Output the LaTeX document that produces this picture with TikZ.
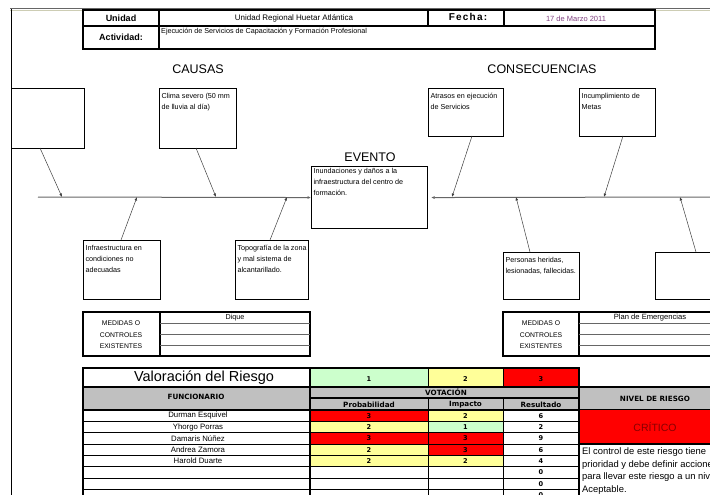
\documentclass[tikz,border=0pt]{standalone}
\usepackage{fontspec}
\setmainfont{Liberation Sans}
\newfontfamily\hdfont{DejaVu Sans}
\usetikzlibrary{arrows.meta}
\definecolor{rred}{RGB}{255,0,0}
\definecolor{ryel}{RGB}{255,255,153}
\definecolor{rgrn}{RGB}{204,255,204}
\definecolor{rgray}{RGB}{192,192,192}
\definecolor{datecol}{RGB}{128,64,128}
\definecolor{critcol}{RGB}{135,0,0}
\definecolor{tanline}{RGB}{205,205,180}
\newcommand\fsz[2]{\fontsize{#1}{#2}\selectfont}
\newcommand\fst{\rule{0pt}{8pt}}
\begin{document}
\begin{tikzpicture}[x=1pt,y=-1pt,
  fbox/.style={draw, line width=1.1pt, inner sep=2pt, anchor=north west, font=\fsz{7.2}{11}},
  arr/.style={draw=black!75, line width=0.5pt, -{Latex[length=3.5pt,width=2.8pt]}},
  spine/.style={draw=black!60, line width=1pt, -{Latex[length=3.5pt,width=3pt]}},
  title/.style={font=\fsz{12.5}{14}},
  small/.style={font=\fsz{7.2}{8}},
  nm/.style={font=\fsz{7.8}{8}},
  bsmall/.style={font=\hdfont\bfseries\fsz{6.6}{8}},
  hd/.style={font=\hdfont\bfseries\fsz{7.2}{8}},
  thick border/.style={line width=1.1pt},
  thin border/.style={line width=0.5pt}]
\useasboundingbox (0,0) rectangle (710,495);
\clip (0,0) rectangle (710,495);
\fill[white] (0,0) rectangle (710,495);

% page lines
\draw[black!60, line width=1.2pt] (10,8.5) -- (712,8.5);
\draw[tanline, line width=0.8pt] (10,10.6) -- (712,10.6);
\draw[line width=0.8pt] (11,9) -- (11,496);

% header table
\draw[line width=1.3pt] (83,10) rectangle (655,49);
\draw[thick border] (83,26) -- (655,26);
\draw[thick border] (159,10) -- (159,49);
\draw[thick border] (428,10) -- (428,26) (504,10) -- (504,26);
\node[font=\bfseries\fsz{9}{10}] (hunidad) at (121,18) {Unidad};
\node[font=\bfseries\fsz{9}{10}] (hact) at (121,37.5) {Actividad:};
\node[font=\fsz{8}{9}] (hunit) at (294,18) {Unidad Regional Huetar Atlántica};
\node[font=\fsz{7.2}{8}, anchor=west, inner sep=1pt] (hactv) at (160,32) {Ejecución de Servicios de Capacitación y Formación Profesional};
\node[font=\bfseries\fsz{10}{11}\addfontfeatures{LetterSpace=12}] (hfecha) at (468,17) {Fecha:};
\node[font=\fsz{7.5}{9}, text=datecol] (hdate) at (576,19) {17 de Marzo 2011};

% titles
\node[title] (causas) at (198,69) {CAUSAS};
\node[title] (consec) at (542,69) {CONSECUENCIAS};
\node[title] (evento) at (370,157) {EVENTO};

% cause boxes
\node[fbox, minimum width=73pt, minimum height=60pt] (c1) at (11,88) {};
\node[fbox] (c2) at (159,88) {\parbox[c][56pt][t]{73pt}{\raggedright\fst Clima severo (50 mm\\de lluvia al día)}};
\node[fbox] (c3) at (83,240) {\parbox[c][55pt][t]{73pt}{\raggedright\fst Infraestructura en\\condiciones no\\adecuadas}};
\node[fbox] (c4) at (235,240) {\parbox[c][55pt][t]{69pt}{\raggedright\fst Topografía de la zona\\y mal sistema de\\alcantarillado.}};

% event
\node[fbox] (ev) at (311,166) {\parbox[c][58pt][t]{112pt}{\raggedright Inundaciones y daños a la\\infraestructura del centro de\\formación.}};

% consequence boxes
\node[fbox] (k1) at (428,88) {\parbox[c][44pt][t]{71pt}{\raggedright\fst Atrasos en ejecución\\de Servicios}};
\node[fbox] (k2) at (579,88) {\parbox[c][44pt][t]{72pt}{\raggedright\fst Incumplimiento de\\Metas}};
\node[fbox] (k3) at (503,252) {\parbox[c][43pt][t]{72pt}{\raggedright\fst Personas heridas,\\lesionadas, fallecidas.}};
\node[fbox, minimum width=60pt, minimum height=47pt] (k4) at (655,252) {};

% spine
\coordinate (spL) at (38,197);
\coordinate (spR) at (715,197);
\draw[spine] (spL) -- (ev.west);
\draw[spine, shorten >=3pt] (spR) -- (ev.east);

% branch coordinates
\coordinate (c1s) at (40,148);   \coordinate (c1e) at (62,197);
\coordinate (c2s) at (196,148);  \coordinate (c2e) at (216,197);
\coordinate (c3s) at (121,240);  \coordinate (c3e) at (137,197);
\coordinate (c4s) at (270,240);  \coordinate (c4e) at (287,197);
\coordinate (k1s) at (472,136);  \coordinate (k1e) at (452,197);
\coordinate (k2s) at (623,136);  \coordinate (k2e) at (604,197);
\coordinate (k3s) at (530,252);  \coordinate (k3e) at (516,197);
\coordinate (k4s) at (696,252);  \coordinate (k4e) at (680,197);
\foreach \b in {c1,c2,c3,c4,k1,k2,k3,k4}{\draw[arr] (\b s) -- (\b e);}

% measures tables
\draw[thick border] (83,312) rectangle (310,356);
\draw[thick border] (160,312) -- (160,356);
\draw[black!60, line width=0.9pt] (160,323) -- (310,323) (160,334) -- (310,334) (160,345) -- (310,345);
\node[font=\fsz{6.8}{11.5}, align=center] (m1) at (121,335) {MEDIDAS O\\CONTROLES\\EXISTENTES};
\node[small] (dique) at (235,317.5) {Dique};

\draw[thick border] (503,312) rectangle (720,356);
\draw[thick border] (579,312) -- (579,356);
\draw[black!60, line width=0.9pt] (579,323) -- (720,323) (579,334) -- (720,334) (579,345) -- (720,345);
\node[font=\fsz{6.8}{11.5}, align=center] (m2) at (541,335) {MEDIDAS O\\CONTROLES\\EXISTENTES};
\node[font=\fsz{7.6}{8}] (plan) at (650,317.5) {Plan de Emergencias};

% valuation table
\draw[thick border] (83,368) rectangle (310,387);
\node[font=\fsz{14.5}{15}] (valor) at (204,378) {Valoración del Riesgo};
\filldraw[fill=rgrn, thin border] (310,368) rectangle (428,387);
\filldraw[fill=ryel, thin border] (428,368) rectangle (503,387);
\filldraw[fill=rred, thin border] (503,368) rectangle (579,387);
\node[bsmall] (v1) at (369,379) {1};
\node[bsmall] (v2) at (465.5,379) {2};
\node[bsmall] (v3) at (541,379) {3};
\draw[thick border] (310,368) -- (579,368) -- (579,387);

\filldraw[fill=rgray, thick border] (83,387) rectangle (310,410);
\node[hd] (func) at (196,397) {FUNCIONARIO};
\filldraw[fill=rgray, thick border] (310,387) rectangle (579,398);
\node[hd] (vot) at (446,392.5) {VOTACIÓN};
\filldraw[fill=rgray, thin border] (310,398) rectangle (428,410);
\filldraw[fill=rgray, thin border] (428,398) rectangle (503,410);
\filldraw[fill=rgray, thin border] (503,398) rectangle (579,410);
\node[hd] (hprob) at (369,404.5) {Probabilidad};
\node[hd] (himp) at (465.5,404.5) {Impacto};
\node[hd] (hres) at (541,404.5) {Resultado};
\filldraw[fill=rgray, thick border] (579,387) rectangle (731,410);
\node[hd] (nivel) at (655,398.5) {NIVEL DE RIESGO};
\fill[rred] (579,410) rectangle (731,444);
\draw[thick border] (579,410) -- (579,444) -- (731,444);
\node[font=\fsz{10.5}{12}, text=critcol] (crit) at (655,427) {CRÍTICO};

\foreach \i/\nme/\p/\pc/\m/\mc/\r in {
  1/Durman Esquivel/3/rred/2/ryel/6,
  2/Yhorgo Porras/2/ryel/1/rgrn/2,
  3/Damaris Núñez/3/rred/3/rred/9,
  4/Andrea Zamora/2/ryel/3/rred/6,
  5/Harold Duarte/2/ryel/2/ryel/4,
  6/{}/{}/white/{}/white/0,
  7/{}/{}/white/{}/white/0,
  8/{}/{}/white/{}/white/0}{
  \pgfmathsetmacro\ya{410+(\i-1)*11.3}
  \pgfmathsetmacro\yb{\ya+11.3}
  \pgfmathsetmacro\yc{\ya+5.9}
  \draw[thin border] (83,\ya) rectangle (310,\yb);
  \filldraw[fill=\pc, thin border] (310,\ya) rectangle (428,\yb);
  \filldraw[fill=\mc, thin border] (428,\ya) rectangle (503,\yb);
  \draw[thin border] (503,\ya) rectangle (579,\yb);
  \node[nm] (name\i) at (198,\yc) {\nme};
  \node[bsmall] (prob\i) at (369,\yc) {\p};
  \node[bsmall] (imp\i) at (465.5,\yc) {\m};
  \node[bsmall] (res\i) at (541,\yc) {\r};
}
\draw[thick border] (83,410) -- (83,500) (310,410) -- (310,500) (579,410) -- (579,500);
\draw[thick border] (83,410) -- (579,410);

\node[font=\fsz{9.4}{12.5}, align=left, anchor=north west, inner sep=0pt] (desc) at (582,447.5)
  {El control de este riesgo tiene\\prioridad y debe definir acciones\\para llevar este riesgo a un nivel\\Aceptable.};
\end{tikzpicture}
\end{document}
